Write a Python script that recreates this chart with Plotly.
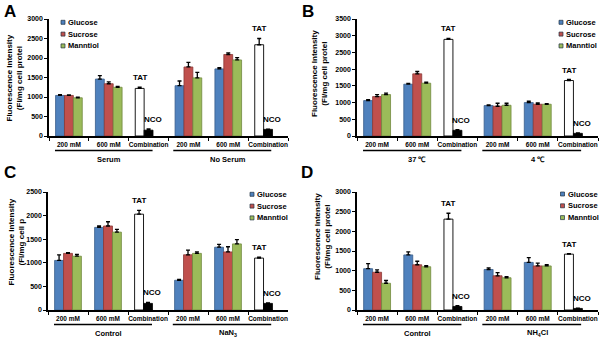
import plotly.graph_objects as go

W, H = 600, 338
FONT = "Liberation Sans"

CONC = ["200 mM", "600 mM", "Combination"]
SERIES = ["Glucose", "Sucrose", "Manntiol"]
COLORS = ["#4F81BD", "#C0504D", "#9BBB59"]
EDGES = ["#385D8A", "#8C3836", "#71893F"]

# ---- Panel A ----
A_GROUPS = ["Serum", "No Serum"]
A_GLUCOSE = [1040, 1460, 1290, 1720]
A_GLUCOSE_ERR = [20, 90, 120, 30]
A_SUCROSE = [1040, 1340, 1770, 2090]
A_SUCROSE_ERR = [15, 50, 120, 40]
A_MANNITOL = [980, 1250, 1490, 1950]
A_MANNITOL_ERR = [15, 20, 140, 60]
A_TAT = [1220, 2340]
A_TAT_ERR = [30, 160]
A_NCO = [150, 170]
A_NCO_ERR = [30, 5]

# ---- Panel B ----
B_GROUPS = ["37 ℃", "4 ℃"]
B_GLUCOSE = [1060, 1550, 910, 1000]
B_GLUCOSE_ERR = [30, 20, 20, 40]
B_SUCROSE = [1180, 1860, 890, 950]
B_SUCROSE_ERR = [60, 70, 90, 40]
B_MANNITOL = [1240, 1580, 920, 950]
B_MANNITOL_ERR = [40, 30, 60, 15]
B_TAT = [2890, 1660]
B_TAT_ERR = [30, 30]
B_NCO = [170, 80]
B_NCO_ERR = [20, 10]

# ---- Panel C ----
C_GROUPS = ["Control", "NaN<sub>3</sub>"]
C_GLUCOSE = [1050, 1750, 630, 1330]
C_GLUCOSE_ERR = [120, 30, 20, 60]
C_SUCROSE = [1200, 1780, 1170, 1230]
C_SUCROSE_ERR = [15, 90, 100, 110]
C_MANNITOL = [1140, 1650, 1200, 1400]
C_MANNITOL_ERR = [40, 60, 30, 90]
C_TAT = [2030, 1100]
C_TAT_ERR = [80, 20]
C_NCO = [140, 140]
C_NCO_ERR = [20, 10]

# ---- Panel D ----
D_GROUPS = ["Control", "NH<sub>4</sub>Cl"]
D_GLUCOSE = [1050, 1400, 1030, 1210]
D_GLUCOSE_ERR = [130, 80, 40, 120]
D_SUCROSE = [960, 1150, 870, 1120]
D_SUCROSE_ERR = [60, 90, 80, 70]
D_MANNITOL = [680, 1100, 820, 1120]
D_MANNITOL_ERR = [70, 30, 30, 30]
D_TAT = [2310, 1420]
D_TAT_ERR = [150, 10]
D_NCO = [90, 40]
D_NCO_ERR = [20, 5]

Y_MAX = {"A": 3000, "B": 3500, "C": 2500, "D": 3000}
Y_TITLE_2 = {"A": "(FI/mg cell protel", "B": "(FI/mg cell protel",
             "C": "(FI/mg cell p", "D": "(FI/mg cell protel"}

panels = {
    "A": dict(groups=A_GROUPS, vals=[A_GLUCOSE, A_SUCROSE, A_MANNITOL],
              errs=[A_GLUCOSE_ERR, A_SUCROSE_ERR, A_MANNITOL_ERR],
              tat=A_TAT, tat_err=A_TAT_ERR, nco=A_NCO, nco_err=A_NCO_ERR),
    "B": dict(groups=B_GROUPS, vals=[B_GLUCOSE, B_SUCROSE, B_MANNITOL],
              errs=[B_GLUCOSE_ERR, B_SUCROSE_ERR, B_MANNITOL_ERR],
              tat=B_TAT, tat_err=B_TAT_ERR, nco=B_NCO, nco_err=B_NCO_ERR),
    "C": dict(groups=C_GROUPS, vals=[C_GLUCOSE, C_SUCROSE, C_MANNITOL],
              errs=[C_GLUCOSE_ERR, C_SUCROSE_ERR, C_MANNITOL_ERR],
              tat=C_TAT, tat_err=C_TAT_ERR, nco=C_NCO, nco_err=C_NCO_ERR),
    "D": dict(groups=D_GROUPS, vals=[D_GLUCOSE, D_SUCROSE, D_MANNITOL],
              errs=[D_GLUCOSE_ERR, D_SUCROSE_ERR, D_MANNITOL_ERR],
              tat=D_TAT, tat_err=D_TAT_ERR, nco=D_NCO, nco_err=D_NCO_ERR),
}

# layout geometry in pixels: (left, right, top, bottom)
GEOM = {"A": (49, 288, 19, 136), "B": (357, 598, 19, 136),
        "C": (48, 288, 192, 310), "D": (357, 598, 192, 310)}
LETTER_POS = {"A": (10, 11), "B": (308, 11), "C": (10, 173), "D": (307, 172)}
YTITLE_POS = {"A": (13.5, 78), "B": (319, 74), "C": (15.5, 242), "D": (322, 237)}
LEGEND_POS = {"A": (63, 22.3), "B": (561, 22.3), "C": (252, 194.3), "D": (562.5, 194)}

def px(x):
    return x / W

def py(y):
    return 1 - y / H

fig = go.Figure()
annotations = []
shapes = []

for i, key in enumerate(["A", "B", "C", "D"]):
    p = panels[key]
    sfx = "" if i == 0 else str(i + 1)
    xa, ya = "x" + sfx, "y" + sfx
    cats = [f"{g}|{c}" for g in p["groups"] for c in CONC]
    conc_cats = [f"{g}|{c}" for g in p["groups"] for c in CONC[:2]]
    comb_cats = [f"{g}|{CONC[2]}" for g in p["groups"]]

    for s in range(3):
        fig.add_trace(go.Bar(
            x=conc_cats, y=p["vals"][s], name=SERIES[s], xaxis=xa, yaxis=ya,
            offsetgroup=str(s + 1), showlegend=False,
            marker=dict(color=COLORS[s], line=dict(color=EDGES[s], width=0.8)),
            error_y=dict(type="data", array=p["errs"][s], arrayminus=[0] * len(conc_cats),
                         symmetric=False, color="black", thickness=1.3, width=2)))
    fig.add_trace(go.Bar(
        x=comb_cats, y=p["tat"], name="TAT", xaxis=xa, yaxis=ya, offsetgroup="1",
        showlegend=False, marker=dict(color="white", line=dict(color="black", width=0.9)),
        error_y=dict(type="data", array=p["tat_err"], arrayminus=[0, 0], symmetric=False,
                     color="black", thickness=1.3, width=2)))
    fig.add_trace(go.Bar(
        x=comb_cats, y=p["nco"], name="NCO", xaxis=xa, yaxis=ya, offsetgroup="2",
        showlegend=False, marker=dict(color="black", line=dict(color="black", width=0.8)),
        error_y=dict(type="data", array=p["nco_err"], arrayminus=[0, 0], symmetric=False,
                     color="black", thickness=1.3, width=2)))

    l, r, t, b = GEOM[key]
    fig.layout["xaxis" + sfx] = dict(
        domain=[px(l), px(r)], anchor=ya, type="category", automargin=False,
        categoryorder="array", categoryarray=cats, range=[-0.5, 5.5],
        tickmode="array", tickvals=cats, ticktext=CONC * 2, tickson="boundaries",
        tickangle=0, ticklabelstandoff=1,
        ticks="outside", ticklen=3, tickwidth=1, tickcolor="black",
        showline=True, linecolor="black", linewidth=1.5, showgrid=False,
        tickfont=dict(family=FONT, size=6.5, color="black", weight="bold"))
    fig.layout["yaxis" + sfx] = dict(
        domain=[py(b), py(t)], anchor=xa, range=[0, Y_MAX[key]], dtick=500,
        automargin=False,
        ticks="outside", ticklen=3, tickwidth=1, tickcolor="black",
        showline=True, linecolor="black", linewidth=1.5, showgrid=False, zeroline=False,
        tickfont=dict(family=FONT, size=7, color="black", weight="bold"))

    # group underlines and labels
    uline_y = b + 14.5
    label_y = b + 23
    for g, (x0, x1) in enumerate([(-0.35, 2.1), (2.62, 5.08)]):
        shapes.append(dict(type="line", xref=xa, yref="paper", x0=x0, x1=x1,
                           y0=py(uline_y), y1=py(uline_y),
                           line=dict(color="black", width=1.6)))
        annotations.append(dict(text=p["groups"][g], xref=xa, yref="paper",
                                x=cats[3 * g + 1], y=py(label_y), showarrow=False,
                                xanchor="center", yanchor="middle",
                                font=dict(family=FONT, size=7.5, color="black", weight="bold")))

    # TAT / NCO labels
    for g in range(2):
        annotations.append(dict(text="TAT", xref=xa, yref=ya, x=comb_cats[g],
                                y=p["tat"][g] + p["tat_err"][g], xshift=-9, yshift=3,
                                xanchor="center", yanchor="bottom", showarrow=False,
                                font=dict(family=FONT, size=8, color="black", weight="bold")))
        annotations.append(dict(text="NCO", xref=xa, yref=ya, x=comb_cats[g],
                                y=p["nco"][g] + p["nco_err"][g], xshift=4, yshift=3,
                                xanchor="center", yanchor="bottom", showarrow=False,
                                font=dict(family=FONT, size=8, color="black", weight="bold")))

    # panel letter
    lx, ly = LETTER_POS[key]
    annotations.append(dict(text=key, xref="paper", yref="paper", x=px(lx), y=py(ly),
                            showarrow=False, xanchor="center", yanchor="middle",
                            font=dict(family=FONT, size=17, color="black", weight="bold")))
    # y axis title
    tx, ty = YTITLE_POS[key]
    annotations.append(dict(text="Fluorescence Intensity<br>" + Y_TITLE_2[key],
                            xref="paper", yref="paper", x=px(tx), y=py(ty), textangle=-90,
                            showarrow=False, xanchor="center", yanchor="middle",
                            font=dict(family=FONT, size=8, color="black", weight="bold")))
    # legend
    gx, gy = LEGEND_POS[key]
    for s in range(3):
        yy = gy + s * 11.8
        shapes.append(dict(type="rect", xref="paper", yref="paper",
                           x0=px(gx - 2), x1=px(gx + 2), y0=py(yy + 2), y1=py(yy - 2),
                           fillcolor=COLORS[s], line=dict(color="#203040", width=0.7)))
        annotations.append(dict(text=SERIES[s], xref="paper", yref="paper",
                                x=px(gx + 3.3), y=py(yy), xanchor="left", yanchor="middle",
                                showarrow=False,
                                font=dict(family=FONT, size=7.5, color="black", weight="bold")))

fig.update_layout(
    width=W, height=H, margin=dict(l=0, r=0, t=0, b=0, pad=0, autoexpand=False),
    paper_bgcolor="white", plot_bgcolor="white",
    barmode="group", bargap=0.33, bargroupgap=0,
    font=dict(family=FONT, color="black"),
    annotations=annotations, shapes=shapes, showlegend=False)

fig.write_html("out.html", config=dict(displayModeBar=False),
               post_script="document.body.style.margin='0px';document.body.style.overflow='hidden';")
